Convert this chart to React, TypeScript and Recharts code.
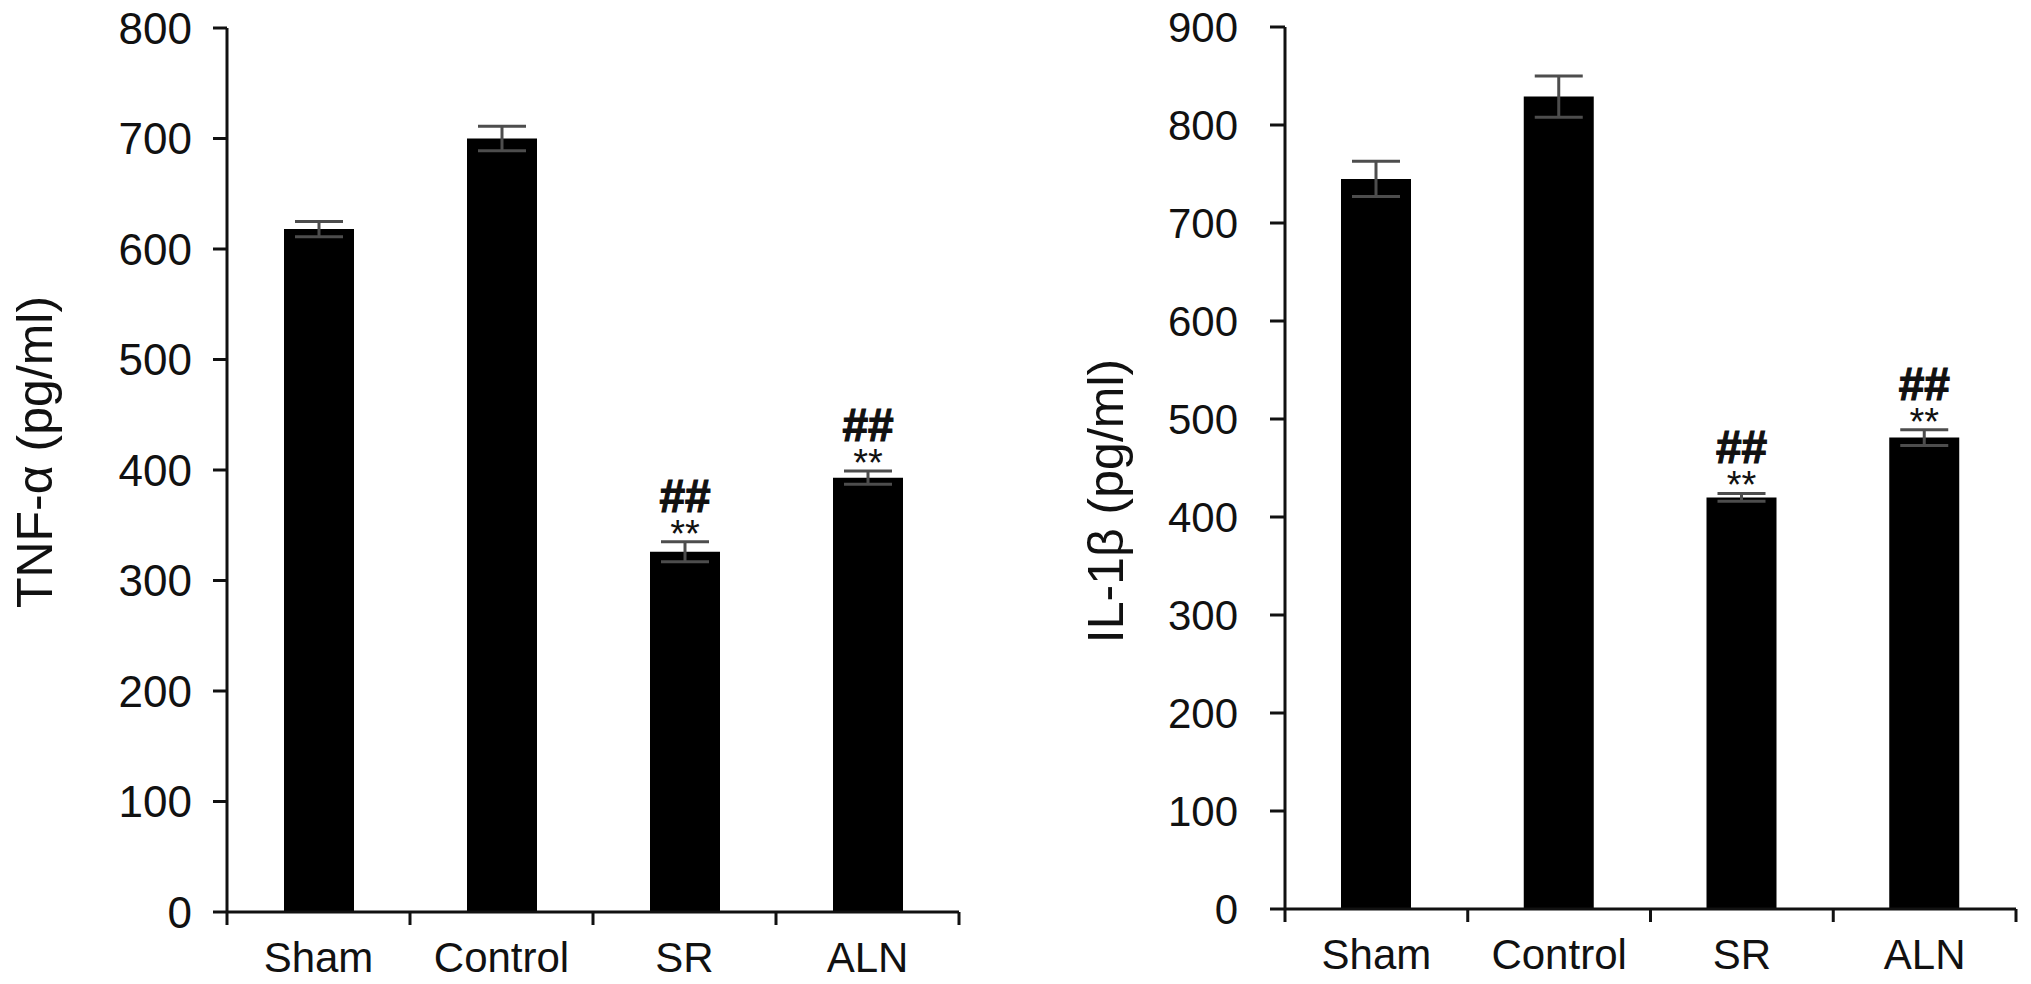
import React from "react";
import { Bar, BarChart, ErrorBar, Label, LabelList, XAxis, YAxis } from "recharts";

const categories = ["Sham", "Control", "SR", "ALN"];

const tnfMean = [618, 700, 326, 393];
const tnfErr = [7, 11, 9, 6];

const il1bMean = [745, 829, 420, 481];
const il1bErr = [18, 21, 4, 8];

// significance marks drawn above the error bars
const starMarks = ["", "", "**", "**"];
const hashMarks = ["", "", "##", "##"];

const tnfTicks = [0, 100, 200, 300, 400, 500, 600, 700, 800];
const il1bTicks = [0, 100, 200, 300, 400, 500, 600, 700, 800, 900];

const FONT = '"Liberation Sans", Arial, Helvetica, sans-serif';
const INK = "#111";

const buildRows = (mean: number[], err: number[]) =>
  categories.map((name, i) => ({ name, mean: mean[i], err: err[i] }));

function CatTick(props: any) {
  const { x, y, payload, index, half, fontSize } = props;
  const last = index === categories.length - 1;
  return (
    <g>
      <line x1={x - half} x2={x - half} y1={y} y2={y + 13} stroke={INK} strokeWidth={3} />
      {last && <line x1={x + half} x2={x + half} y1={y} y2={y + 13} stroke={INK} strokeWidth={3} />}
      <text
        x={x}
        y={y + 30}
        dy="0.71em"
        textAnchor="middle"
        fontSize={fontSize}
        fontFamily={FONT}
        fill={INK}
      >
        {payload.value}
      </text>
    </g>
  );
}

// "##" over "**", one text block stacked just above the error cap
function SigMarks(props: any) {
  const { index, errs } = props;
  const vb = props.viewBox ?? props;
  const x = Number(props.x ?? vb.x);
  const y = Number(props.y ?? vb.y);
  const width = Number(props.width ?? vb.width);
  const height = Number(props.height ?? vb.height);
  const value = Number(props.value);
  if (!starMarks[index]) return null;
  const capY = y - (errs[index] * height) / value;
  const cx = x + width / 2;
  return (
    <text x={cx} y={capY - 30} textAnchor="middle" fontFamily={FONT} fill={INK}>
      <tspan x={cx} fontSize={46} fontWeight="bold" stroke={INK} strokeWidth={1.2}>
        {hashMarks[index]}
      </tspan>
      <tspan x={cx} dy={35} fontSize={38}>
        {starMarks[index]}
      </tspan>
    </text>
  );
}

function YTitle(props: any) {
  const { viewBox, text, cx0, dy } = props;
  const cx = viewBox.x + cx0;
  const cy = viewBox.y + viewBox.height / 2 + dy;
  return (
    <text
      x={cx}
      y={cy}
      transform={`rotate(-90 ${cx} ${cy})`}
      textAnchor="middle"
      dominantBaseline="central"
      fontSize={50}
      fontFamily={FONT}
      fill={INK}
    >
      {text}
    </text>
  );
}

function Panel(props: any) {
  const {
    mean, err, ticks, title, left, width, yAxisWidth, marginRight, top, xAxisHeight,
    tickFont, tickSize, tickMargin, titleX, titleDy,
  } = props;
  const height = 984;
  const plotW = width - yAxisWidth - marginRight;
  const half = plotW / categories.length / 2;
  return (
    <div style={{ position: "absolute", left, top: 0 }}>
      <BarChart
        width={width}
        height={height}
        data={buildRows(mean, err)}
        margin={{ top, right: marginRight, bottom: 0, left: 0 }}
      >
        <XAxis
          dataKey="name"
          interval={0}
          height={xAxisHeight}
          axisLine={{ stroke: INK, strokeWidth: 3 }}
          tickLine={false}
          tickSize={0}
          tickMargin={0}
          tick={<CatTick half={half} fontSize={42} />}
        />
        <YAxis
          width={yAxisWidth}
          domain={[0, ticks[ticks.length - 1]]}
          ticks={ticks}
          interval={0}
          axisLine={{ stroke: INK, strokeWidth: 3 }}
          tickLine={{ stroke: INK, strokeWidth: 3 }}
          tickSize={tickSize}
          tickMargin={tickMargin}
          tick={{ fontSize: tickFont, fontFamily: FONT, fill: INK }}
        >
          <Label content={(p: any) => <YTitle {...p} text={title} cx0={titleX} dy={titleDy} />} />
        </YAxis>
        <Bar dataKey="mean" fill="#000" barSize={70} isAnimationActive={false}>
          <ErrorBar dataKey="err" width={24} stroke="#4d4d4d" strokeWidth={3} />
          <LabelList dataKey="mean" content={(p: any) => <SigMarks {...p} errs={err} />} />
        </Bar>
      </BarChart>
    </div>
  );
}

export default function App() {
  return (
    <div
      style={{
        position: "absolute",
        left: 0,
        top: 0,
        width: 2031,
        height: 984,
        background: "#fff",
        overflow: "hidden",
      }}
    >
      <Panel
        mean={tnfMean}
        err={tnfErr}
        ticks={tnfTicks}
        title="TNF-α (pg/ml)"
        left={0}
        width={1000}
        yAxisWidth={227}
        marginRight={41}
        top={28}
        xAxisHeight={72}
        tickFont={44}
        tickSize={14}
        tickMargin={21}
        titleX={35}
        titleDy={-18}
      />
      <Panel
        mean={il1bMean}
        err={il1bErr}
        ticks={il1bTicks}
        title="IL-1β (pg/ml)"
        left={1040}
        width={991}
        yAxisWidth={245}
        marginRight={15}
        top={27}
        xAxisHeight={75}
        tickFont={42}
        tickSize={15}
        tickMargin={32}
        titleX={66}
        titleDy={33}
      />
    </div>
  );
}
